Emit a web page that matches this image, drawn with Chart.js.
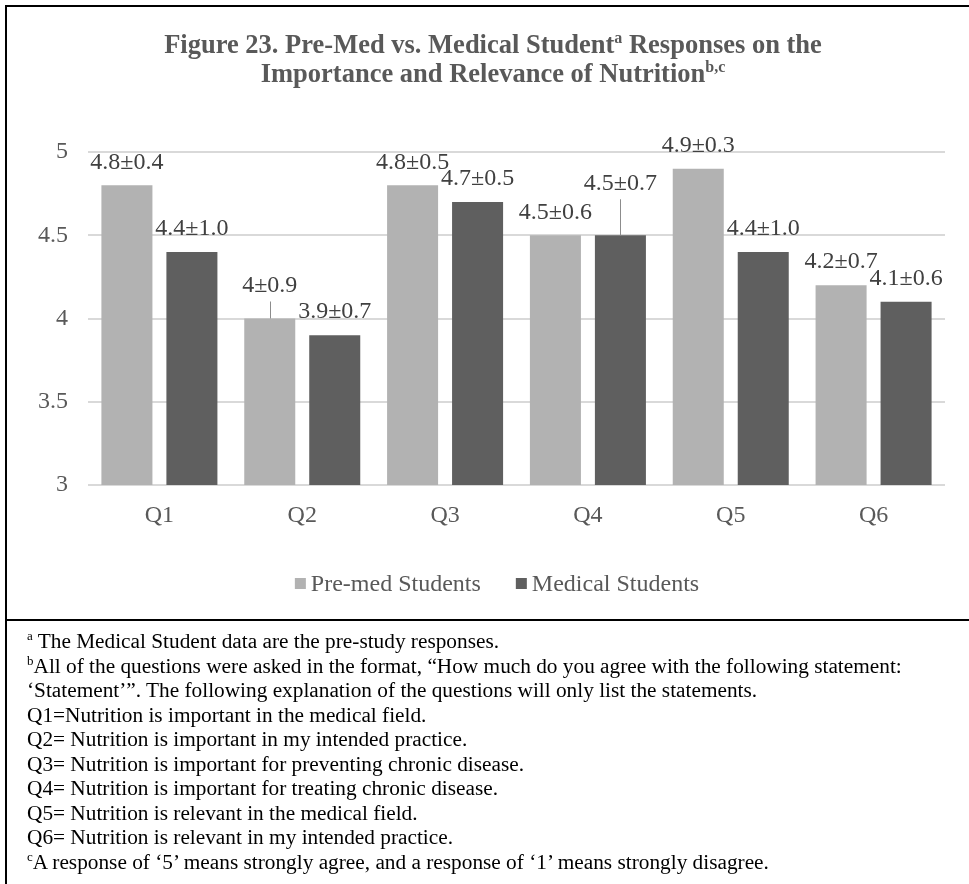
<!DOCTYPE html>
<html><head><meta charset="utf-8">
<script src="https://cdn.jsdelivr.net/npm/chart.js@4.4.1/dist/chart.umd.min.js"></script>
<style>
html,body{margin:0;padding:0;background:#fff;width:969px;height:884px;overflow:hidden;}
#wrap{position:absolute;left:0;top:0;width:969px;height:620px;}
#box{position:absolute;left:5px;top:5px;width:990px;height:900px;border:2px solid #000;box-sizing:border-box;pointer-events:none;}
#sep{position:absolute;left:5px;top:619px;width:990px;height:2px;background:#000;}
#notes{position:absolute;left:27px;top:629px;font-family:'Liberation Serif','Times New Roman',serif;font-size:21.3px;line-height:24.5px;color:#000;white-space:nowrap;}
#notes sup{font-size:13px;line-height:0;vertical-align:baseline;position:relative;top:-8px;}
</style></head>
<body>
<div id="wrap"><canvas id="c" width="969" height="620"></canvas></div>
<div id="box"></div>
<div id="sep"></div>
<div id="notes">
<div><sup>a</sup> The Medical Student data are the pre-study responses.</div>
<div><sup>b</sup>All of the questions were asked in the format, “How much do you agree with the following statement:</div>
<div>‘Statement’”. The following explanation of the questions will only list the statements.</div>
<div>Q1=Nutrition is important in the medical field.</div>
<div>Q2= Nutrition is important in my intended practice.</div>
<div>Q3= Nutrition is important for preventing chronic disease.</div>
<div>Q4= Nutrition is important for treating chronic disease.</div>
<div>Q5= Nutrition is relevant in the medical field.</div>
<div>Q6= Nutrition is relevant in my intended practice.</div>
<div><sup>c</sup>A response of ‘5’ means strongly agree, and a response of ‘1’ means strongly disagree.</div>
</div>
<script>
const categories = ['Q1','Q2','Q3','Q4','Q5','Q6'];
const seriesNames = ['Pre-med Students','Medical Students'];
const premedMeans = [4.8, 4, 4.8, 4.5, 4.9, 4.2];
const premedSD = [0.4, 0.9, 0.5, 0.6, 0.3, 0.7];
const medicalMeans = [4.4, 3.9, 4.7, 4.5, 4.4, 4.1];
const medicalSD = [1.0, 0.7, 0.5, 0.7, 1.0, 0.6];
const yTicks = [3, 3.5, 4, 4.5, 5];
const titleLine1 = ['Figure 23. Pre-Med vs. Medical Student', 'a', ' Responses on the'];
const titleLine2 = ['Importance and Relevance of Nutrition', 'b,c'];

const FONT = "'Liberation Serif','Times New Roman',serif";
const sdSets = [premedSD, medicalSD];
// manual label lifts (dataset index, category index) -> extra px, with leader line
const labelLift = {'0-1': 10, '1-3': 29};

const titlePlugin = {
  id: 'figTitle',
  afterDraw(chart) {
    const ctx = chart.ctx;
    const lines = [[titleLine1, 53], [titleLine2, 82]];
    const cx = 493;
    ctx.save();
    ctx.fillStyle = '#595959';
    ctx.textBaseline = 'alphabetic';
    ctx.textAlign = 'left';
    for (const [parts, base] of lines) {
      const runs = parts.map((t, i) => ({t, sup: i % 2 === 1}));
      let total = 0;
      for (const r of runs) {
        ctx.font = r.sup ? `bold 16px ${FONT}` : `bold 26.5px ${FONT}`;
        r.w = ctx.measureText(r.t).width; total += r.w;
      }
      let x = cx - total / 2;
      for (const r of runs) {
        ctx.font = r.sup ? `bold 16px ${FONT}` : `bold 26.5px ${FONT}`;
        ctx.fillText(r.t, x, r.sup ? base - 10 : base);
        x += r.w;
      }
    }
    ctx.restore();
  }
};

const legendPlugin = {
  id: 'figLegend',
  afterDraw(chart) {
    const ctx = chart.ctx;
    const box = 11, gapText = 5, gapItem = 35, cx = 497, cy = 584;
    ctx.save();
    ctx.font = `24px ${FONT}`;
    ctx.textBaseline = 'middle';
    ctx.textAlign = 'left';
    const items = chart.data.datasets.map(ds => ({label: ds.label, color: ds.backgroundColor, w: ctx.measureText(ds.label).width}));
    let total = items.reduce((s, it) => s + box + gapText + it.w, 0) + gapItem * (items.length - 1);
    let x = cx - total / 2;
    items.forEach(it => {
      ctx.fillStyle = it.color;
      ctx.fillRect(x, cy - 6, box, box);
      ctx.fillStyle = '#595959';
      ctx.fillText(it.label, x + box + gapText, cy + 1);
      x += box + gapText + it.w + gapItem;
    });
    ctx.restore();
  }
};

const labelPlugin = {
  id: 'barLabels',
  afterDatasetsDraw(chart) {
    const ctx = chart.ctx;
    ctx.save();
    ctx.font = `24px ${FONT}`;
    ctx.textAlign = 'center';
    ctx.textBaseline = 'middle';
    chart.data.datasets.forEach((ds, di) => {
      const meta = chart.getDatasetMeta(di);
      meta.data.forEach((bar, i) => {
        const lift = labelLift[di + '-' + i] || 0;
        const cy = bar.y - 23 - lift;
        const txt = String(ds.data[i]) + '±' + sdSets[di][i].toFixed(1);
        if (lift) {
          ctx.strokeStyle = '#8c8c8c';
          ctx.lineWidth = 1;
          ctx.beginPath();
          const lx = Math.round(bar.x) + 0.5;
          ctx.moveTo(lx, cy + 16);
          ctx.lineTo(lx, bar.y);
          ctx.stroke();
        }
        ctx.fillStyle = '#404040';
        ctx.fillText(txt, bar.x, cy);
      });
    });
    ctx.restore();
  }
};

new Chart(document.getElementById('c'), {
  type: 'bar',
  data: {
    labels: categories,
    datasets: [
      {label: seriesNames[0], data: premedMeans, backgroundColor: '#b2b2b2', categoryPercentage: 0.91, barPercentage: 0.785},
      {label: seriesNames[1], data: medicalMeans, backgroundColor: '#5f5f5f', categoryPercentage: 0.91, barPercentage: 0.785}
    ]
  },
  options: {
    responsive: false,
    animation: false,
    devicePixelRatio: 1,
    layout: {padding: {left: 6, right: 24, top: 152, bottom: 58}},
    plugins: {
      legend: {display: false},
      tooltip: {enabled: false},
      title: {display: false}
    },
    scales: {
      x: {
        grid: {display: false, drawTicks: false},
        border: {display: false},
        ticks: {font: {family: FONT, size: 24}, color: '#595959', padding: 16},
        afterFit: s => { s.height = 77; }
      },
      y: {
        min: 3, max: 5,
        grid: {color: '#d9d9d9', lineWidth: 2, drawTicks: false},
        border: {display: false},
        ticks: {font: {family: FONT, size: 24}, color: '#595959', padding: 20, callback: v => String(v)},
        afterBuildTicks: s => { s.ticks = yTicks.map(v => ({value: v})); },
        afterFit: s => { s.width = 82; }
      }
    }
  },
  plugins: [titlePlugin, legendPlugin, labelPlugin]
});
</script>
</body></html>
